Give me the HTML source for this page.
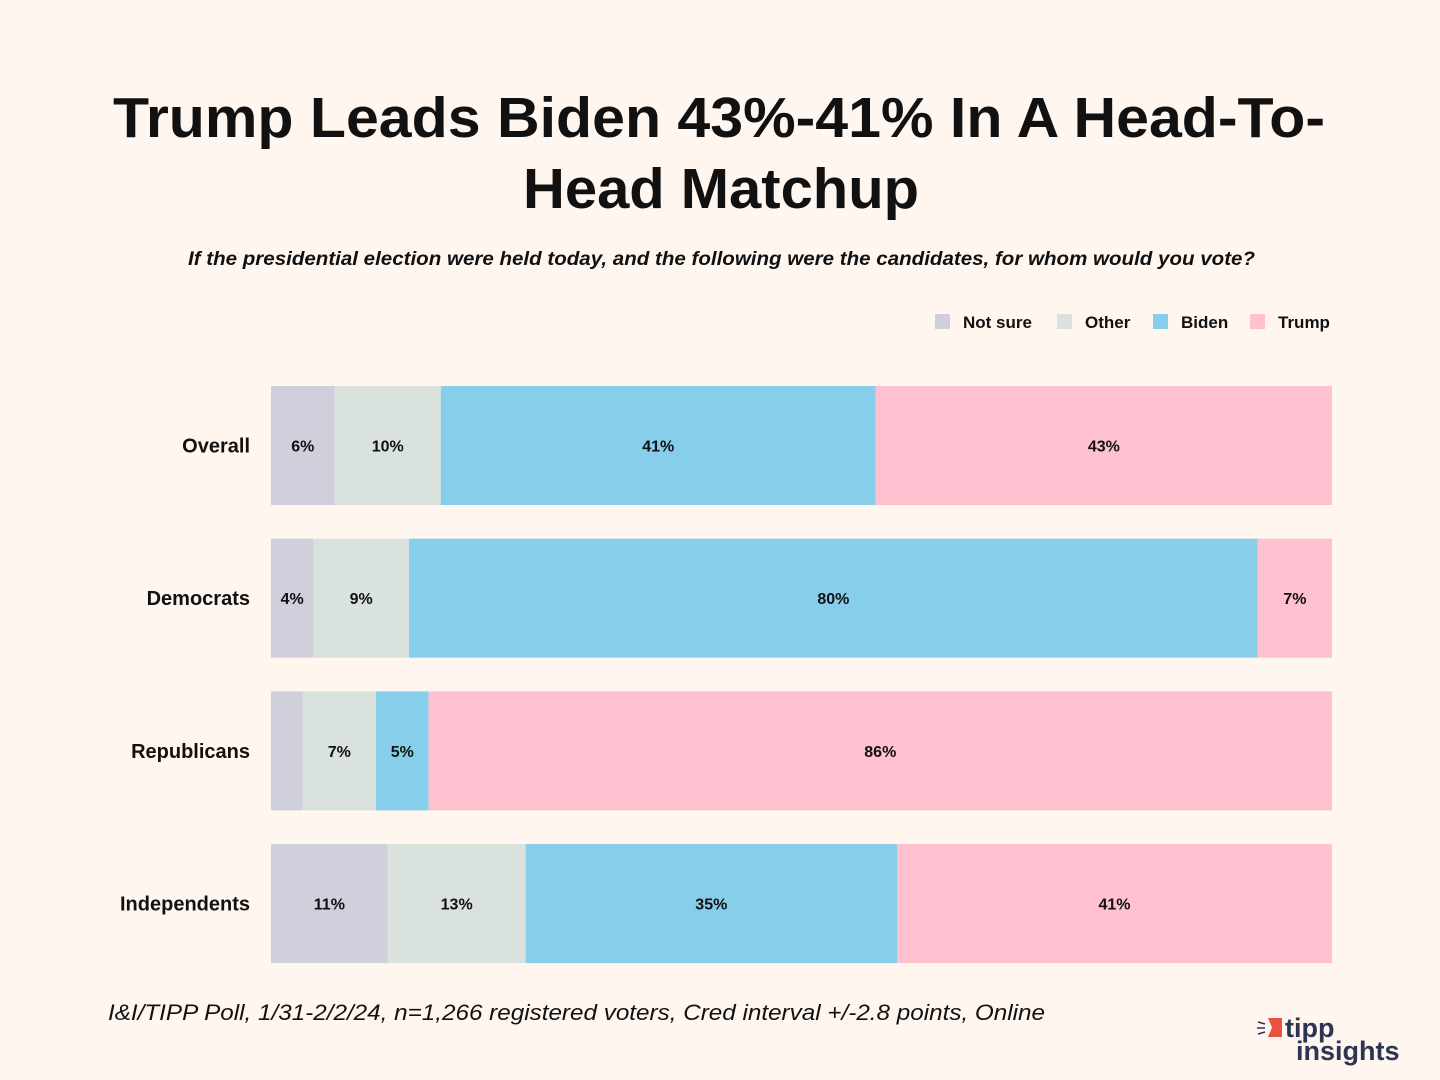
<!DOCTYPE html>
<html><head><meta charset="utf-8"><style>
body{margin:0;background:#fff6f0;}
svg{display:block;font-family:"Liberation Sans",sans-serif;}
</style></head><body>
<svg width="1440" height="1080">
<rect width="1440" height="1080" fill="#fff6f0"/>
<text x="113" y="137" textLength="1212" lengthAdjust="spacingAndGlyphs" font-size="57" font-weight="bold" fill="#111">Trump Leads Biden 43%-41% In A Head-To-</text>
<text x="523" y="208" textLength="396" lengthAdjust="spacingAndGlyphs" font-size="57" font-weight="bold" fill="#111">Head Matchup</text>
<text x="188" y="265" textLength="1067" lengthAdjust="spacingAndGlyphs" font-size="19" font-style="italic" font-weight="bold" fill="#111">If the presidential election were held today, and the following were the candidates, for whom would you vote?</text>
<g id="legend"></g>
<g id="bars"></g>
<text x="108" y="1020" textLength="937" lengthAdjust="spacingAndGlyphs" font-size="22" font-style="italic" fill="#111">I&amp;I/TIPP Poll, 1/31-2/2/24, n=1,266 registered voters, Cred interval +/-2.8 points, Online</text>
<g>
<path d="M1268 1018 h14 v19 h-14 l4 -9.5 z" fill="#e8533f"/>
<path d="M1258 1022 l7 2 M1257 1028 h8 M1258 1034 l7 -2" stroke="#2e3553" stroke-width="1.5"/>
<text x="1285" y="1037" font-size="27" font-weight="bold" fill="#2e3553">tipp</text>
<text x="1296" y="1060" font-size="27" font-weight="bold" fill="#2e3553">insights</text>
</g>
</svg>
<script>
const categories = ["Overall","Democrats","Republicans","Independents"];
const seriesNames = ["Not sure","Other","Biden","Trump"];
const notSure = [6,4,3,11];
const other = [10,9,7,13];
const biden = [41,80,5,35];
const trump = [43,7,86,41];
const colors = ["#d0d0dc","#d9e2dc","#87ceea","#ffc1d0"];
const NS="http://www.w3.org/2000/svg";
const X0=271, X1=1332, Y0=386, BH=119, STEP=152.7;
function xScale(v,total){return (X1-X0)*v/total;}
function yPos(i){return Y0+i*STEP;}
const series=[notSure,other,biden,trump];
const bars=document.getElementById('bars');
categories.forEach((c,i)=>{
  const t=document.createElementNS(NS,'text');
  t.setAttribute('x',250);t.setAttribute('y',yPos(i)+BH/2+7);
  t.setAttribute('text-anchor','end');t.setAttribute('font-size','20');t.setAttribute('font-weight','bold');t.setAttribute('fill','#111');
  t.textContent=c;
  
  
  bars.appendChild(t);
  const total=series.reduce((s,a)=>s+a[i],0);
  let x=X0;
  series.forEach((arr,k)=>{
    const w=xScale(arr[i],total);
    const r=document.createElementNS(NS,'rect');
    r.setAttribute('x',x);r.setAttribute('y',yPos(i));r.setAttribute('width',w);r.setAttribute('height',BH);r.setAttribute('fill',colors[k]);
    
    
    bars.appendChild(r);
    if(arr[i]>=4){
      const l=document.createElementNS(NS,'text');
      l.setAttribute('x',x+w/2);l.setAttribute('y',yPos(i)+BH/2+6);
      l.setAttribute('text-anchor','middle');l.setAttribute('font-size','16');l.setAttribute('font-weight','bold');l.setAttribute('fill','#111');
      l.textContent=arr[i]+'%';
      
      
      bars.appendChild(l);
    }
    x+=w;
  });
});
const legX=[935,1057,1153,1250];
const leg=document.getElementById('legend');
seriesNames.forEach((n,k)=>{
  const r=document.createElementNS(NS,'rect');
  r.setAttribute('x',legX[k]);r.setAttribute('y',314);r.setAttribute('width',15);r.setAttribute('height',15);r.setAttribute('fill',colors[k]);
  
  
  leg.appendChild(r);
  const t=document.createElementNS(NS,'text');
  t.setAttribute('x',legX[k]+28);t.setAttribute('y',328);t.setAttribute('font-size','17');t.setAttribute('font-weight','bold');t.setAttribute('fill','#111');
  t.textContent=n;
  
  
  leg.appendChild(t);
});
</script>
</body></html>
